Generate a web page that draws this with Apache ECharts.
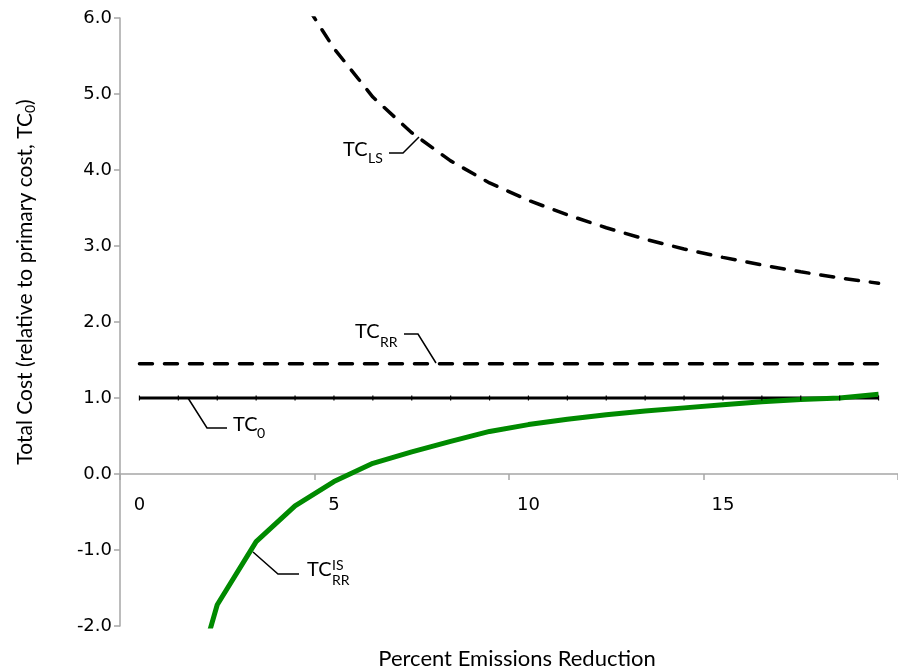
<!DOCTYPE html>
<html>
<head>
<meta charset="utf-8">
<script src="https://cdn.jsdelivr.net/npm/echarts/dist/echarts.min.js"></script>
<style>
html,body{margin:0;padding:0;background:#fff;}
#chart{width:898px;height:671px;}
</style>
</head>
<body>
<div id="chart"></div>
<script>
// ---- Data ----
var categories = ['0','1','2','3','4','5','6','7','8','9','10','11','12','13','14','15','16','17','18','19'];
var tc0   = [1.0,1.0,1.0,1.0,1.0,1.0,1.0,1.0,1.0,1.0,1.0,1.0,1.0,1.0,1.0,1.0,1.0,1.0,1.0,1.0];
var tcRR  = [1.45,1.45,1.45,1.45,1.45,1.45,1.45,1.45,1.45,1.45,1.45,1.45,1.45,1.45,1.45,1.45,1.45,1.45,1.45,1.45];
var tcLS  = [null,null,null,null,6.4,5.6,4.96,4.49,4.12,3.83,3.6,3.41,3.24,3.09,2.96,2.85,2.75,2.66,2.58,2.51];
var tcRRIS = [null,-3.5,-1.72,-0.89,-0.42,-0.10,0.14,0.29,0.43,0.56,0.65,0.72,0.78,0.83,0.87,0.91,0.95,0.98,1.00,1.05];
var yTicks = {min:-2, max:6, interval:1};

var tickFont = 'DejaVu Sans';
var textFont = 'Lato';
var axisGray = '#a6a6a6';

var gridTop = 18, gridHeight = 608;
// pixel distance from grid bottom up to the value-0 line (layout only)
var zeroOffset = gridHeight * (0 - yTicks.min) / (yTicks.max - yTicks.min);

var chart = echarts.init(document.getElementById('chart'));

function txt(x, y, s, size, align) {
  return {type:'text', x:x, y:y, style:{text:s, fill:'#000', font: size + 'px ' + textFont, textAlign: align || 'left', textVerticalAlign:'middle'}};
}
function leader(points) {
  return {type:'polyline', shape:{points:points}, style:{stroke:'#000', lineWidth:1.5, fill:null}};
}

var graphics = [
  {type:'text', x:517, y:659, style:{text:'Percent Emissions Reduction', fill:'#000', font:'22px ' + textFont, textAlign:'center', textVerticalAlign:'middle'}},
  // TC_LS
  leader([[389,153],[403,153],[419,137]]),
  txt(343,150,'TC',20), txt(368,158,'LS',14),
  // TC_RR
  leader([[404,334],[418,334],[436,363]]),
  txt(355,332,'TC',20), txt(380,342,'RR',14),
  // TC0
  leader([[188,398],[207,428],[227,428]]),
  txt(233,425,'TC',20), txt(257,433,'0',14),
  // TC_RR^IS
  leader([[253,552],[278,574],[299,574]]),
  txt(307,570,'TC',20), txt(332,565,'IS',14), txt(332,580,'RR',14)
];

// rotated y-axis title with subscript
(function(){
  var main = 'Total Cost (relative to primary cost, TC', sub = '0', tail = ')';
  var fs = 21, fsSub = 14;
  var ctx = document.createElement('canvas').getContext('2d');
  ctx.font = fs + 'px ' + textFont; var w1 = ctx.measureText(main).width; var w3 = ctx.measureText(tail).width;
  ctx.font = fsSub + 'px ' + textFont; var w2 = ctx.measureText(sub).width;
  var start = -(w1 + w2 + w3) / 2;
  graphics.push({type:'group', x:25, y:282, rotation:Math.PI/2, children:[
    {type:'text', x:start, y:0, style:{text:main, fill:'#000', font:fs + 'px ' + textFont, textAlign:'left', textVerticalAlign:'middle'}},
    {type:'text', x:start + w1, y:5, style:{text:sub, fill:'#000', font:fsSub + 'px ' + textFont, textAlign:'left', textVerticalAlign:'middle'}},
    {type:'text', x:start + w1 + w2, y:0, style:{text:tail, fill:'#000', font:fs + 'px ' + textFont, textAlign:'left', textVerticalAlign:'middle'}}
  ]});
})();

var option = {
  animation: false,
  backgroundColor: '#ffffff',
  grid: {left:120, top:gridTop, width:788, height:gridHeight, containLabel:false},
  xAxis: {
    type:'category', data:categories, boundaryGap:true, position:'bottom',
    offset: -zeroOffset,
    axisLine:{show:true, onZero:false, lineStyle:{color:axisGray, width:1.5}},
    axisTick:{show:true, interval:4, length:6, lineStyle:{color:axisGray, width:1.5}},
    axisLabel:{show:true, interval:4, margin:22, color:'#000', fontSize:18, fontFamily:tickFont},
    splitLine:{show:false}
  },
  yAxis: {
    type:'value', min:yTicks.min, max:yTicks.max, interval:yTicks.interval,
    axisLine:{show:true, lineStyle:{color:axisGray, width:1.5}},
    axisTick:{show:true, length:6, lineStyle:{color:axisGray, width:1.5}},
    axisLabel:{margin:8, color:'#000', fontSize:18, fontFamily:tickFont,
      formatter:function(v){return v.toFixed(1);}},
    splitLine:{show:false}
  },
  series: [
    {name:'TC_RR', type:'line', data:tcRR, showSymbol:false, clip:true,
     lineStyle:{color:'#000', width:3.5, type:[13,12], cap:'round'}},
    {name:'TC_LS', type:'line', data:tcLS, showSymbol:false, clip:true, connectNulls:false,
     lineStyle:{color:'#000', width:3.5, type:[13,12], cap:'round'}},
    {name:'TC0', type:'line', data:tc0, clip:true, symbol:'rect', symbolSize:[1.2,5], showSymbol:true,
     itemStyle:{color:'#000'}, lineStyle:{color:'#000', width:3}},
    {name:'TC_RR_IS', type:'line', data:tcRRIS, showSymbol:false, clip:true,
     lineStyle:{color:'#008a00', width:5}}
  ],
  graphic: graphics
};
chart.setOption(option);
</script>
</body>
</html>
